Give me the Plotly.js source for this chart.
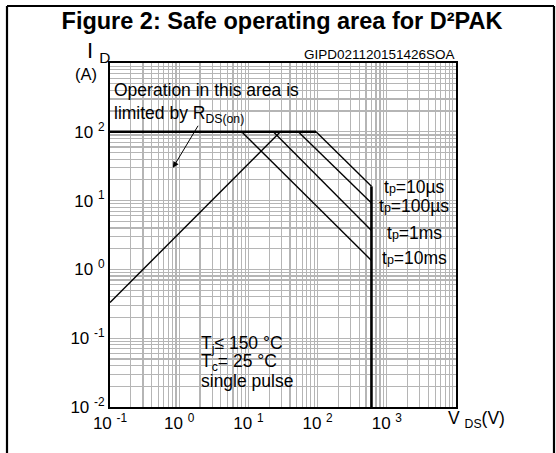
<!DOCTYPE html>
<html>
<head>
<meta charset="utf-8">
<script src="https://cdn.plot.ly/plotly-3.0.1.min.js"></script>
<style>html,body{margin:0;padding:0;background:#fff;}#chart{width:556px;height:453px;}</style>
</head>
<body>
<div id="chart"></div>
<script>
// ---- data ----
const xTickVals = [0.1, 1, 10, 100, 1000];
const xTickText = ["10 <sup>-1</sup>", "10 <sup>0</sup>", "10 <sup>1</sup>", "10 <sup>2</sup>", "10 <sup>3</sup>"];
const yTickVals = [0.01, 0.1, 1, 10, 100];
const yTickText = ["10 <sup>-2</sup>", "10 <sup>-1</sup>", "10 <sup>0</sup>", "10 <sup>1</sup>", "10 <sup>2</sup>"];

// R_DS(on) limit
const rdsV = [0.1, 29];
const rdsI = [0.33, 100];
// current limit 100 A
const limV = [0.1, 95];
const limI = [100, 100];
// pulse curves
const tp10usV = [95, 600];   const tp10usI = [100, 16.1];
const tp100usV = [52.6, 600]; const tp100usI = [100, 9.2];
const tp1msV = [22.9, 600];  const tp1msI = [100, 3.68];
const tp10msV = [8.0, 600];  const tp10msI = [100, 1.35];
// V_DSS limit
const vmaxV = [600, 600];
const vmaxI = [16.1, 0.01];

const P = "t<span style='font-size:12.5px'>p</span>";
const pulseLabels = [P + "=10µs", P + "=100µs", P + "=1ms", P + "=10ms"];
const condLabels = ["T<sub>j</sub>≤ 150 °C", "T<sub>c</sub>= 25 °C", "single pulse"];

// ---- drawing ----
const FONT = "Liberation Sans, Arial, Helvetica, sans-serif";
function line(x, y, w) {
  return {x: x, y: y, type: "scatter", mode: "lines", line: {color: "#000", width: w},
          hoverinfo: "skip", showlegend: false, cliponaxis: false};
}
const traces = [
  line(rdsV, rdsI, 1.4),
  line(limV, limI, 2.6),
  line(tp10usV, tp10usI, 1.4),
  line(tp100usV, tp100usI, 1.4),
  line(tp1msV, tp1msI, 1.4),
  line(tp10msV, tp10msI, 1.4),
  line(vmaxV, vmaxI, 2.6)
];

const L = 110, T = 63, W = 346, H = 344, B = 407;
const px = x => (x - L) / W;
const py = y => (B - y) / H;

const GRID = "#b5b5b5";
const annotations = [];
function txt(text, x, y, size, xa, ya) {
  annotations.push({text: text, x: px(x), y: py(y), xref: "paper", yref: "paper",
    xanchor: xa || "left", yanchor: ya || "middle", showarrow: false,
    font: {family: FONT, size: size, color: "#000"}});
}
txt("Operation in this area is", 112, 90, 17.5);
txt("limited by R<sub>DS(on)</sub>", 112, 114, 17.5);
txt("GIPD021120151426SOA", 457, 55, 13.5, "right");
const pulseY = [187, 206, 233, 258];
pulseLabels.forEach((t, i) => txt(t, 414, pulseY[i], 17.5, "center"));
const condY = [344, 362, 381];
condLabels.forEach((t, i) => txt(t, 199, condY[i], 17.5));
txt("I <sub>D</sub>", 85, 52, 22);
txt("(A)", 86, 74, 16.5, "center");
txt("V <sub>DS</sub>(V)", 476, 419, 17.5, "center");

// arrow to the R_DS(on) region
annotations.push({text: " ", x: Math.log10(0.81), y: Math.log10(30), xref: "x", yref: "y",
  showarrow: true, ax: 27, ay: -45, arrowhead: 2, arrowsize: 1.2, arrowwidth: 1, arrowcolor: "#000",
  font: {size: 2}});

const white = {fillcolor: "#fff", line: {width: 0}, layer: "between", type: "rect", xref: "paper", yref: "paper"};
const shapes = [
  Object.assign({x0: 0, x1: px(300), y0: py(123), y1: py(81)}, white),
  Object.assign({x0: px(377), x1: 1, y0: py(272), y1: py(167)}, white),
  Object.assign({x0: px(198), x1: px(302), y0: 0, y1: py(318)}, white),
  // figure frame
  {type: "line", xref: "paper", yref: "paper", x0: px(7), x1: px(7), y0: py(470), y1: py(6), line: {color: "#000", width: 2.2}, layer: "above"},
  {type: "line", xref: "paper", yref: "paper", x0: px(7), x1: px(554), y0: py(6), y1: py(6), line: {color: "#000", width: 2.2}, layer: "above"},
  {type: "line", xref: "paper", yref: "paper", x0: px(554), x1: px(554), y0: py(470), y1: py(6), line: {color: "#000", width: 2.2}, layer: "above"}
];

const axisCommon = {
  type: "log", showline: true, linecolor: "#000", linewidth: 2, mirror: true,
  ticks: "", showgrid: true, gridcolor: GRID, gridwidth: 1.2, zeroline: false,
  tickmode: "array", tickfont: {family: FONT, size: 17, color: "#000"},
  minor: {dtick: "D1", showgrid: true, gridcolor: GRID, gridwidth: 1.2, ticks: ""}
};

const layout = {
  width: 556, height: 453,
  margin: {l: L, r: 556 - L - W, t: T, b: 453 - B},
  paper_bgcolor: "#fff", plot_bgcolor: "#fff",
  title: {text: "<b>Figure 2: Safe operating area for D²PAK</b>", x: 282 / 556, xanchor: "center",
          xref: "container", y: 1 - 21 / 453, yref: "container", yanchor: "middle",
          font: {family: FONT, size: 23.5, color: "#000"}},
  xaxis: Object.assign({}, axisCommon, {range: [-1, 4], tickvals: xTickVals, ticktext: xTickText}),
  yaxis: Object.assign({}, axisCommon, {range: [-2, 3], tickvals: yTickVals, ticktext: yTickText}),
  annotations: annotations, shapes: shapes, showlegend: false
};

Plotly.newPlot("chart", traces, layout, {staticPlot: true, displayModeBar: false});
</script>
</body>
</html>
